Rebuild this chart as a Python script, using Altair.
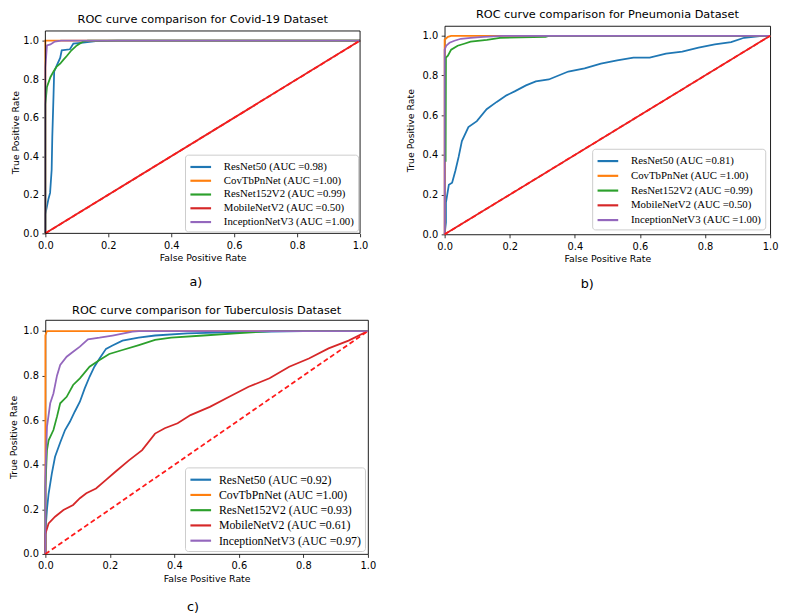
import altair as alt
import pandas as pd

models = ["ResNet50", "CovTbPnNet", "ResNet152V2", "MobileNetV2", "InceptionNetV3"]
colors = ["#1f77b4", "#ff7f0e", "#2ca02c", "#d62728", "#9467bd"]

auc_covid = ["0.98", "1.00", "0.99", "0.50", "1.00"]
auc_pneu = ["0.81", "1.00", "0.99", "0.50", "1.00"]
auc_tb = ["0.92", "1.00", "0.93", "0.61", "0.97"]

tick_values = [0.0, 0.2, 0.4, 0.6, 0.8, 1.0]
diag_fpr = [0.0, 1.0]
diag_tpr = [0.0, 1.0]

# ---------------- Covid-19 ----------------
covid_resnet50_fpr = [0, 0, 0.005, 0.01, 0.015, 0.02, 0.022, 0.026, 0.028, 0.036, 0.047, 0.052, 0.078, 0.089, 0.12, 0.16, 0.23, 1.0]
covid_resnet50_tpr = [0, 0.1, 0.14, 0.18, 0.21, 0.33, 0.5, 0.72, 0.84, 0.87, 0.91, 0.95, 0.955, 0.985, 0.99, 0.997, 1.0, 1.0]
covid_covtb_fpr = [0, 0, 1.0]
covid_covtb_tpr = [0, 1.0, 1.0]
covid_resnet152_fpr = [0, 0, 0.005, 0.016, 0.026, 0.036, 0.047, 0.057, 0.068, 0.083, 0.1, 0.12, 0.135, 1.0]
covid_resnet152_tpr = [0, 0.67, 0.76, 0.81, 0.84, 0.865, 0.88, 0.9, 0.92, 0.95, 0.975, 0.995, 1.0, 1.0]
covid_mobile_fpr = [0.0, 1.0]
covid_mobile_tpr = [0.0, 1.0]
covid_inception_fpr = [0, 0, 0.005, 0.016, 0.03, 0.05, 1.0]
covid_inception_tpr = [0, 0.86, 0.975, 0.98, 0.995, 1.0, 1.0]

# ---------------- Pneumonia ----------------
pneu_resnet50_fpr = [0, 0.004, 0.004, 0.013, 0.023, 0.033, 0.043, 0.053, 0.073, 0.099, 0.129, 0.16, 0.19, 0.215, 0.25, 0.28, 0.32, 0.38, 0.43, 0.48, 0.53, 0.58, 0.63, 0.68, 0.73, 0.78, 0.83, 0.88, 0.92, 0.975, 1.0]
pneu_resnet50_tpr = [0, 0.06, 0.16, 0.25, 0.26, 0.32, 0.39, 0.47, 0.54, 0.57, 0.63, 0.667, 0.70, 0.72, 0.75, 0.77, 0.78, 0.82, 0.836, 0.86, 0.876, 0.89, 0.89, 0.91, 0.92, 0.94, 0.957, 0.968, 0.99, 1.0, 1.0]
pneu_covtb_fpr = [0, 0, 0.01, 0.02, 1.0]
pneu_covtb_tpr = [0, 0.98, 0.995, 1.0, 1.0]
pneu_resnet152_fpr = [0, 0.003, 0.004, 0.01, 0.02, 0.04, 0.06, 0.08, 0.13, 0.17, 0.31, 0.32, 1.0]
pneu_resnet152_tpr = [0.37, 0.37, 0.89, 0.9, 0.93, 0.95, 0.96, 0.97, 0.98, 0.99, 0.995, 1.0, 1.0]
pneu_mobile_fpr = [0.0, 1.0]
pneu_mobile_tpr = [0.0, 1.0]
pneu_inception_fpr = [0, 0, 0.005, 0.015, 0.03, 0.05, 0.08, 0.12, 0.18, 1.0]
pneu_inception_tpr = [0, 0.93, 0.95, 0.965, 0.975, 0.985, 0.99, 0.995, 1.0, 1.0]

# ---------------- Tuberculosis ----------------
tb_resnet50_fpr = [0, 0, 0.005, 0.01, 0.02, 0.03, 0.046, 0.061, 0.076, 0.091, 0.107, 0.122, 0.137, 0.152, 0.168, 0.188, 0.208, 0.239, 0.289, 0.34, 0.44, 0.59, 0.8, 1.0]
tb_resnet50_tpr = [0, 0.1, 0.2, 0.27, 0.36, 0.436, 0.5, 0.556, 0.593, 0.638, 0.683, 0.743, 0.795, 0.84, 0.877, 0.92, 0.935, 0.957, 0.97, 0.98, 0.99, 0.995, 1.0, 1.0]
tb_covtb_fpr = [0, 0, 0.005, 1.0]
tb_covtb_tpr = [0, 0.98, 1.0, 1.0]
tb_resnet152_fpr = [0, 0, 0.005, 0.01, 0.025, 0.036, 0.046, 0.066, 0.086, 0.107, 0.137, 0.168, 0.198, 0.239, 0.29, 0.34, 0.39, 0.49, 0.59, 0.7, 1.0]
tb_resnet152_tpr = [0, 0.3, 0.466, 0.51, 0.556, 0.616, 0.676, 0.705, 0.758, 0.788, 0.84, 0.87, 0.897, 0.915, 0.937, 0.96, 0.97, 0.98, 0.99, 1.0, 1.0]
tb_mobile_fpr = [0, 0, 0.01, 0.03, 0.056, 0.086, 0.107, 0.127, 0.157, 0.188, 0.218, 0.259, 0.3, 0.34, 0.37, 0.41, 0.45, 0.51, 0.57, 0.63, 0.695, 0.756, 0.817, 0.878, 0.94, 1.0]
tb_mobile_tpr = [0, 0.09, 0.137, 0.167, 0.197, 0.22, 0.25, 0.272, 0.294, 0.332, 0.37, 0.42, 0.466, 0.54, 0.564, 0.586, 0.623, 0.66, 0.705, 0.75, 0.788, 0.84, 0.877, 0.922, 0.957, 1.0]
tb_inception_fpr = [0, 0, 0.005, 0.015, 0.025, 0.036, 0.046, 0.066, 0.086, 0.107, 0.132, 0.168, 0.208, 0.27, 0.29, 1.0]
tb_inception_tpr = [0, 0.35, 0.57, 0.676, 0.72, 0.80, 0.848, 0.885, 0.907, 0.93, 0.963, 0.97, 0.98, 0.997, 1.0, 1.0]

covid_curves = [(covid_resnet50_fpr, covid_resnet50_tpr), (covid_covtb_fpr, covid_covtb_tpr),
                (covid_resnet152_fpr, covid_resnet152_tpr), (covid_mobile_fpr, covid_mobile_tpr),
                (covid_inception_fpr, covid_inception_tpr)]
pneu_curves = [(pneu_resnet50_fpr, pneu_resnet50_tpr), (pneu_covtb_fpr, pneu_covtb_tpr),
               (pneu_resnet152_fpr, pneu_resnet152_tpr), (pneu_mobile_fpr, pneu_mobile_tpr),
               (pneu_inception_fpr, pneu_inception_tpr)]
tb_curves = [(tb_resnet50_fpr, tb_resnet50_tpr), (tb_covtb_fpr, tb_covtb_tpr),
             (tb_resnet152_fpr, tb_resnet152_tpr), (tb_mobile_fpr, tb_mobile_tpr),
             (tb_inception_fpr, tb_inception_tpr)]

FONT = "DejaVu Sans"
Y_DOMAIN = [0, 1.05]


def panel(title_text, title_offset, curves, aucs, width, height, y_range, sub_label, sub_x, sub_dy,
          y_title_pad, leg_font, leg_row_pad, leg_offset, leg_label_offset, own_frame):
    labels = [f"{m} (AUC ={a})" for m, a in zip(models, aucs)]
    rows = []
    for k, (lab, (fx, ty)) in enumerate(zip(labels, curves)):
        for i, (a, b) in enumerate(zip(fx, ty)):
            rows.append({"label": lab, "k": k, "i": i, "fpr": a, "tpr": b})
    df = pd.DataFrame(rows)
    yscale = alt.Scale(domain=Y_DOMAIN, nice=False, zero=False)
    if y_range is not None:
        yscale = alt.Scale(domain=Y_DOMAIN, nice=False, zero=False, range=y_range)
    xenc = alt.X("fpr:Q", scale=alt.Scale(domain=[0, 1], nice=False, zero=False),
                 axis=alt.Axis(values=tick_values, format=".1f", title="False Positive Rate",
                               labelFlush=False, titlePadding=3))
    yenc = alt.Y("tpr:Q", scale=yscale,
                 axis=alt.Axis(values=tick_values, format=".1f", title="True Positive Rate",
                               titlePadding=y_title_pad))
    lines = alt.Chart(df).mark_line(strokeWidth=1.8).encode(
        x=xenc, y=yenc,
        color=alt.Color("label:N", sort=labels,
                        scale=alt.Scale(domain=labels, range=colors),
                        legend=alt.Legend(title=None, orient="bottom-right", offset=leg_offset,
                                          fillColor="white", strokeColor="#cccccc",
                                          cornerRadius=3, padding=4,
                                          symbolType="M-1.5,0H1.5", symbolSize=196,
                                          symbolOffset=3.5,
                                          symbolStrokeWidth=2.2, labelFont="Liberation Serif",
                                          labelFontSize=leg_font, labelColor="black",
                                          labelOffset=leg_label_offset, rowPadding=leg_row_pad)),
        order="i:Q",
        detail="k:N",
    )
    diag = alt.Chart(pd.DataFrame({"fpr": diag_fpr, "tpr": diag_tpr})).mark_line(
        color="#ff1a1a", strokeWidth=1.8, strokeDash=[5, 3]).encode(x="fpr:Q", y="tpr:Q")
    sub = alt.Chart(pd.DataFrame({"t": [sub_label]})).mark_text(
        font=FONT, fontSize=13, color="black", baseline="middle", align="center").encode(
        text="t:N", x=alt.value(sub_x), y=alt.value(height + sub_dy))
    layers = [lines, diag, sub]
    if own_frame:
        frame = alt.Chart(pd.DataFrame({"x0": [0.0], "x1": [1.0], "y0": [Y_DOMAIN[0]], "y1": [Y_DOMAIN[1]]})).mark_rect(
            filled=False, stroke="black", strokeWidth=0.9).encode(
            x="x0:Q", x2="x1:Q", y="y0:Q", y2="y1:Q")
        layers.append(frame)
    props = dict(
        width=width, height=height,
        title=alt.TitleParams(text=title_text, fontSize=11.5, font=FONT, fontWeight="normal",
                              offset=title_offset, anchor="middle", color="black"),
    )
    if own_frame:
        props["view"] = alt.ViewConfig(stroke="transparent")
    return alt.layer(*layers).properties(**props)


pa = panel("ROC curve comparison for Covid-19 Dataset", 0, covid_curves, auc_covid,
           320, 211, [211, 5.2], "a)", 153, 50, 2.5, 11, 0, 2, 15, True)
pb = panel("ROC curve comparison for Pneumonia Dataset", 5, pneu_curves, auc_pneu,
           331, 212, None, "b)", 145, 51, 6.5, 11, 1, 5, 15, False)
pc = panel("ROC curve comparison for Tuberculosis Dataset", 4, tb_curves, auc_tb,
           328, 238, None, "c)", 150, 54, 4.5, 12, 0.5, 3, 10, False)

top = alt.hconcat(pa, pb, spacing=37).resolve_scale(color="independent", x="independent", y="independent")
chart = alt.vconcat(top, pc, spacing=12).resolve_scale(
    color="independent", x="independent", y="independent"
).resolve_legend(color="independent").properties(
    padding={"top": -4, "left": 0, "right": 0, "bottom": 0}
).configure_view(
    stroke="black", strokeWidth=0.9
).configure_axis(
    grid=False, domain=False, tickColor="black", tickSize=3.5, tickWidth=0.8,
    labelFont=FONT, labelFontSize=10, labelColor="black", labelPadding=3.5,
    titleFont=FONT, titleFontSize=9.5, titleFontWeight="normal", titleColor="black",
)

chart.save("out.html", embed_options={"renderer": "svg", "actions": False})
